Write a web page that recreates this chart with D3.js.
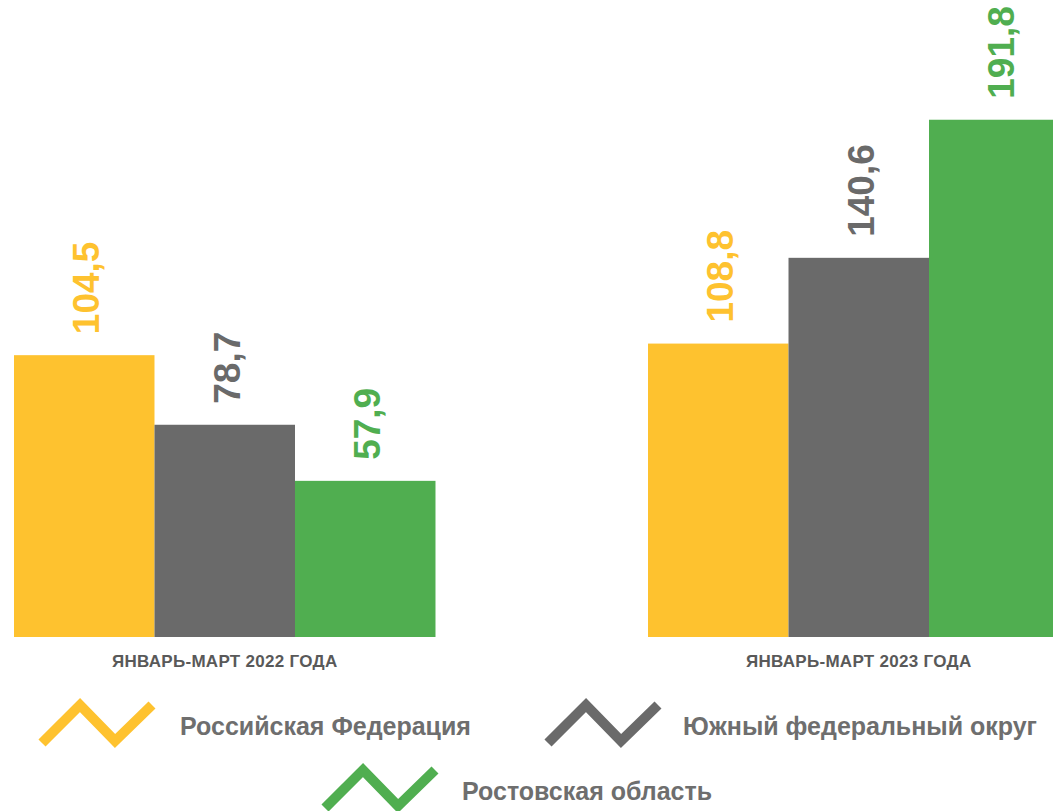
<!DOCTYPE html>
<html><head><meta charset="utf-8">
<script src="https://cdn.jsdelivr.net/npm/d3@7"></script>
<style>html,body{margin:0;padding:0;background:#fff;overflow:hidden}svg{display:block}text{font-family:"Liberation Sans",Arial,sans-serif;font-weight:bold}</style>
</head><body><svg id="c" width="1053" height="811"></svg>
<script>
const categories = ["ЯНВАРЬ-МАРТ 2022 ГОДА", "ЯНВАРЬ-МАРТ 2023 ГОДА"];
const seriesNames = ["Российская Федерация", "Южный федеральный округ", "Ростовская область"];
const seriesColors = ["#FEC22F", "#6A6A6A", "#50AE50"];
const valuesRF = [104.5, 108.8];
const valuesUFO = [78.7, 140.6];
const valuesRO = [57.9, 191.8];
const seriesValues = [valuesRF, valuesUFO, valuesRO];

const svg = d3.select("#c");
const x0 = d3.scaleBand().domain(categories).range([14, 1069.5]).paddingInner(0.3352).paddingOuter(0);
const x1 = d3.scaleBand().domain(d3.range(seriesNames.length)).range([0, x0.bandwidth()]).padding(0);
const y = d3.scaleLinear().domain([0, 236.2]).range([637, 0]);
const fmt = v => d3.format(".1f")(v).replace(".", ",");

categories.forEach((cat, ci) => {
  const g = svg.append("g").attr("transform", `translate(${x0(cat)},0)`);
  seriesValues.forEach((vals, si) => {
    const v = vals[ci];
    g.append("rect")
      .attr("x", x1(si)).attr("width", x1.bandwidth())
      .attr("y", y(v)).attr("height", y(0) - y(v))
      .attr("fill", seriesColors[si]);
    const cx = x1(si) + x1.bandwidth() / 2 + 15;
    const ty = y(v) - 21;
    g.append("text")
      .attr("transform", `translate(${cx},${ty}) rotate(-90)`)
      .attr("text-anchor", "start")
      .attr("font-size", 37)
      .attr("fill", seriesColors[si])
      .text(fmt(v));
  });
  svg.append("text")
    .attr("x", x0(cat) + x0.bandwidth() / 2)
    .attr("y", 667)
    .attr("text-anchor", "middle")
    .attr("font-size", 17)
    .attr("letter-spacing", 0.3)
    .attr("fill", "#595959")
    .text(cat);
});

const legendPos = [[40, 703, 180, 735], [546, 703, 683, 735], [323, 768, 462, 800]];
const zig = d3.line();
seriesNames.forEach((name, si) => {
  const [ix, iy, tx, ty] = legendPos[si];
  const pts = [[ix + 2, iy + 40], [ix + 40, iy + 2], [ix + 75, iy + 38], [ix + 112, iy + 2]];
  svg.append("path").attr("d", zig(pts)).attr("fill", "none")
    .attr("stroke", seriesColors[si]).attr("stroke-width", 10)
    .attr("stroke-linejoin", "miter").attr("stroke-linecap", "butt");
  svg.append("text").attr("x", tx).attr("y", ty)
    .attr("font-size", 25).attr("fill", "#6E6E6E").text(name);
});
</script></body></html>
